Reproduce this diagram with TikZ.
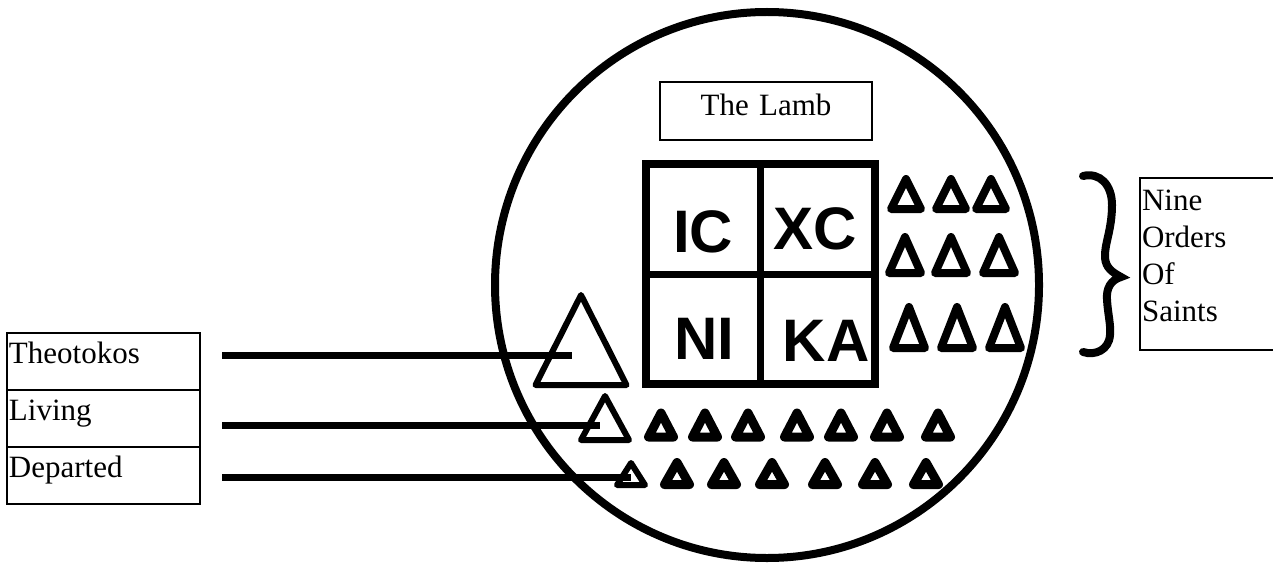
\documentclass[tikz,border=0pt]{standalone}
\usepackage{fontspec}
\setmainfont{Liberation Serif}
\newfontfamily\christofont{Liberation Sans}
\usetikzlibrary{positioning,calc}

% one saint: name, centre x, base y, half width, height, stroke
\newcommand{\saint}[6]{%
  \draw[line width=#6, line join=round] (#2-#4,#3) -- (#2,#3-#5) -- (#2+#4,#3) -- cycle;
  \coordinate (#1) at (#2,#3-#5/3);
}

\tikzset{
  tagbox/.style={draw, line width=0.7pt, outer sep=0pt, inner xsep=1pt, inner ysep=1pt,
    font=\fontsize{15.5}{18.5}\selectfont},
  rowbox/.style={tagbox, align=left, text width=94.5pt, text height=14.25pt, text depth=12.25pt},
  pointer/.style={line width=3.5pt},
  letters/.style={font=\christofont\bfseries\fontsize{30}{30}\selectfont, inner sep=0pt},
}

\begin{document}
\begin{tikzpicture}[x=0.5pt, y=-0.5pt]
  \useasboundingbox (0,0) rectangle (1273,567);

  % the prosphora
  \draw[line width=4pt] (767,285) circle [x radius=272, y radius=273];

  % the lamb
  \node[tagbox, anchor=north west, align=center, text width=104pt, text height=15.5pt, text depth=11.5pt]
    (lamb) at (660,82) {The Lamb};
  \draw[line width=4pt] (646,164) rectangle (875,384);
  \draw[line width=3.5pt] (760,164) -- (760,384);
  \draw[line width=3.5pt] (646,274) -- (875,274);
  \node[letters] (ic) at (703,232) {IC};
  \node[letters] (xc) at (815,229) {XC};
  \node[letters] (ni) at (704,339) {NI};
  \node[letters] (ka) at (826,341) {KA};

  % theotokos
  \saint{theoT}{581}{385}{45.5}{90}{3pt}

  % nine orders
  \foreach \x [count=\i] in {906,951,991} {\saint{ord1\i}{\x}{209}{15}{30}{4pt}}
  \foreach \x [count=\i] in {905,951,999} {\saint{ord2\i}{\x}{273}{16}{36}{4pt}}
  \foreach \x [count=\i] in {909,957,1005} {\saint{ord3\i}{\x}{348}{16}{41}{4pt}}

  % living and departed
  \saint{livT}{605}{440}{24}{44}{3pt}
  \foreach \x [count=\i] in {661,705,748,797,841,887,938} {\saint{liv\i}{\x}{437}{12.5}{24}{4.5pt}}
  \saint{depT}{631}{485}{14}{22}{3pt}
  \foreach \x [count=\i] in {677,724,772,825,875,926} {\saint{dep\i}{\x}{484.5}{12.5}{22}{4.5pt}}

  % labels on the left
  \node[rowbox, anchor=north west] (theo) at (7,333) {Theotokos};
  \node[rowbox, below=0pt of theo] (living) {Living};
  \node[rowbox, below=0pt of living] (departed) {Departed};

  \draw[pointer, shorten >=4.5pt] ($(theo.east |- theoT)+(22,0)$) -- (theoT);
  \draw[pointer, shorten >=2.5pt] ($(living.east |- livT)+(22,0)$) -- (livT);
  \draw[pointer] ($(departed.east |- depT)+(22,0)$) -- (depT);

  % brace and the nine orders
  \draw[line width=4pt, line cap=round]
    (1083,176) .. controls (1100,172) and (1112,185) .. (1112,205)
    .. controls (1112,230) and (1104,245) .. (1105,258)
    .. controls (1106,268) and (1112,272) .. (1121,277)
    .. controls (1111,280) and (1106,288) .. (1107,300)
    .. controls (1108,315) and (1111,325) .. (1110,335)
    .. controls (1109,350) and (1095,356) .. (1083,352);
  \node[tagbox, anchor=north west, align=left, text width=66pt, text height=15.35pt, text depth=68.65pt]
    (orders) at (1140,178) {Nine\\Orders\\Of\\Saints};
\end{tikzpicture}
\end{document}
